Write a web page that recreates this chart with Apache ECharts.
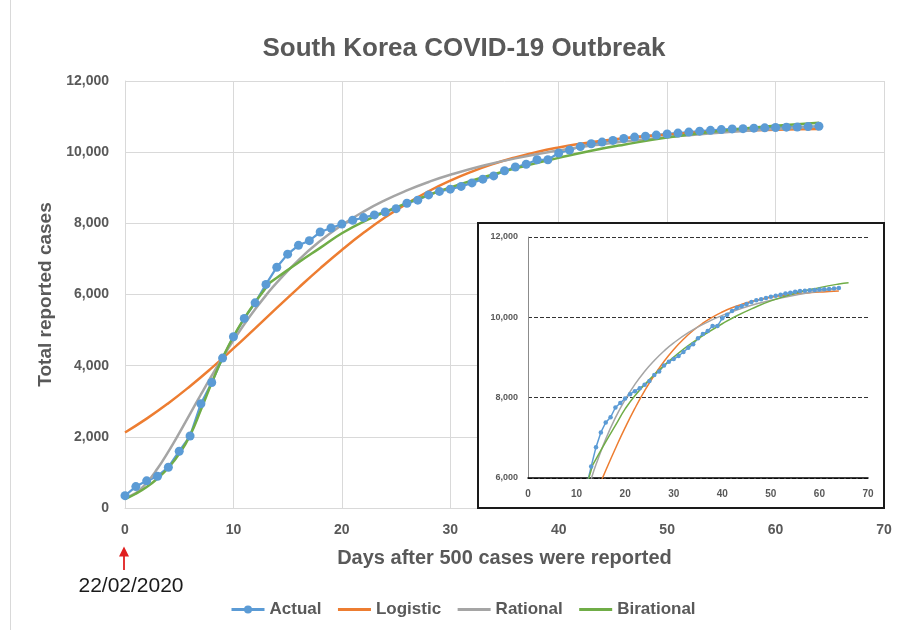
<!DOCTYPE html>
<html><head><meta charset="utf-8">
<script src="https://cdn.jsdelivr.net/npm/echarts@6/dist/echarts.min.js"></script>
<style>html,body{margin:0;padding:0;background:#fff}#c{width:903px;height:630px}</style>
</head><body><div id="c"></div>
<script>
// ---- data ----
const actualDays = [0,1,2,3,4,5,6,7,8,9,10,11,12,13,14,15,16,17,18,19,20,21,22,23,24,25,26,27,28,29,30,31,32,33,34,35,36,37,38,39,40,41,42,43,44,45,46,47,48,49,50,51,52,53,54,55,56,57,58,59,60,61,62,63,64];
const actual = [346,602,763,893,1146,1595,2022,2931,3526,4212,4812,5328,5766,6284,6767,7134,7382,7513,7755,7869,7979,8086,8162,8236,8320,8413,8565,8652,8799,8897,8961,9037,9137,9241,9332,9478,9583,9661,9786,9786,9976,10062,10156,10237,10284,10331,10384,10423,10450,10480,10512,10537,10564,10591,10613,10635,10653,10661,10674,10683,10694,10702,10708,10718,10728];

const logisticDays = [0,2,4,6,8,10,12,14,16,18,20,22,24,26,28,30,32,34,36,38,40,42,44,46,48,50,52,54,56,58,60,62,64];
const logistic = [2123,2511,2945,3423,3938,4484,5050,5622,6187,6735,7253,7733,8169,8558,8902,9200,9455,9672,9854,10007,10133,10238,10323,10394,10451,10498,10537,10568,10593,10613,10630,10643,10654];

const rationalDays = [0,1,2,3,4,5,6,7,8,9,10,11,12,13,14,16,18,20,22,24,26,28,30,33,36,40,44,48,52,56,60,64];
const rational = [300,424,711,1110,1585,2105,2647,3190,3720,4230,4712,5165,5586,5975,6335,6968,7502,7950,8330,8652,8926,9162,9364,9618,9826,10048,10224,10365,10478,10573,10652,10718];

// Birational: two rational pieces joined near day 13
const birationalDaysA = [0,1,2,3,4,5,6,7,8,9,10,11,12,13,13.3];
const birationalA = [253,400,590,830,1130,1520,2040,2760,3520,4220,4820,5330,5780,6190,6320];
const birationalDaysB = [13.3,14,16,18,20,22,25,28,31,34,37,40,43,46,50,55,60,64];
const birationalB = [6320,6470,6900,7310,7720,8050,8450,8800,9110,9380,9620,9840,10040,10210,10410,10600,10740,10830];
// inset version of the birational curve runs a little further
const insetTailDays = [66];
const insetTail = [10860];

const seriesNames = ['Actual','Logistic','Rational','Birational'];
const colors = {Actual:'#5B9BD5', Logistic:'#ED7D31', Rational:'#A5A5A5', Birational:'#70AD47'};

function zip(xs, ys){ return xs.map((x,i)=>[x, ys[i]]); }
function comma(v){ return String(v).replace(/\B(?=(\d{3})+(?!\d))/g, ','); }

const FONT = 'Liberation Sans, Arial, sans-serif';
const GREY_TXT = '#595959';

function mk(name, data, idx, opts){
  const main = idx === 0;
  return Object.assign({
    name: name, type: 'line', data: data,
    xAxisIndex: idx, yAxisIndex: idx,
    showSymbol: false, symbol: 'none', smooth: true,
    lineStyle: {color: colors[name], width: main ? 2.5 : 1.5},
    itemStyle: {color: colors[name]},
    z: main ? 2 : 5, silent: true, animation: false
  }, opts || {});
}

const series = [];
for (const idx of [0,1]) {
  const main = idx === 0;
  series.push(mk('Actual', zip(actualDays, actual), idx, {
    smooth: false, showSymbol: true, symbol: 'circle', symbolSize: main ? 9 : 4.5,
    lineStyle: {color: colors.Actual, width: main ? 2.25 : 1.5}
  }));
  series.push(mk('Logistic', zip(logisticDays, logistic), idx));
  series.push(mk('Rational', zip(rationalDays, rational), idx));
  series.push(mk('Birational', zip(birationalDaysA, birationalA), idx));
  const bDays = main ? birationalDaysB : birationalDaysB.concat(insetTailDays);
  const bVals = main ? birationalB : birationalB.concat(insetTail);
  series.push(mk('Birational', zip(bDays, bVals), idx));
}

const hiddenSym = {opacity: 0, color: 'transparent', borderColor: 'transparent', borderWidth: 0};
const legendData = seriesNames.map(n => n === 'Actual' ? {name: n} : {name: n, itemStyle: hiddenSym});

const chart = echarts.init(document.getElementById('c'), null, {renderer: 'canvas'});
chart.setOption({
  animation: false,
  backgroundColor: '#fff',
  title: {
    text: 'South Korea COVID-19 Outbreak', left: 459, top: 31, textAlign: 'center',
    textStyle: {fontFamily: FONT, fontWeight: 'bold', fontSize: 26, color: GREY_TXT}
  },
  legend: {
    data: legendData, left: 230, top: 601, padding: 0, itemGap: 15, itemWidth: 33, itemHeight: 10,
    lineStyle: {width: 3},
    textStyle: {fontFamily: FONT, fontWeight: 'bold', fontSize: 17, color: GREY_TXT}
  },
  grid: [
    {left: 125, right: 19, top: 81, bottom: 122},
    {left: 528, right: 35, top: 237, bottom: 152}
  ],
  xAxis: [
    {
      type: 'value', gridIndex: 0, min: 0, max: 70, interval: 10, z: 0,
      name: 'Days after 500 cases were reported', nameLocation: 'middle', nameGap: 40,
      nameTextStyle: {fontFamily: FONT, fontWeight: 'bold', fontSize: 20, color: GREY_TXT},
      axisLine: {show: true, lineStyle: {color: '#d9d9d9', width: 1}},
      axisTick: {show: false},
      axisLabel: {fontFamily: FONT, fontWeight: 'bold', fontSize: 14, color: GREY_TXT, margin: 15},
      splitLine: {show: true, lineStyle: {color: '#d9d9d9', width: 1}}
    },
    {
      type: 'value', gridIndex: 1, min: 0, max: 70, interval: 10, z: 4,
      axisLine: {show: true, onZero: false, lineStyle: {color: '#000', width: 1.5}},
      axisTick: {show: false},
      axisLabel: {fontFamily: FONT, fontWeight: 'bold', fontSize: 10, color: GREY_TXT, margin: 11},
      splitLine: {show: false}
    }
  ],
  yAxis: [
    {
      type: 'value', gridIndex: 0, min: 0, max: 12000, interval: 2000, z: 0,
      name: 'Total reported cases', nameLocation: 'middle', nameGap: 66,
      nameTextStyle: {fontFamily: FONT, fontWeight: 'bold', fontSize: 19, color: GREY_TXT},
      axisLine: {show: true, lineStyle: {color: '#d9d9d9', width: 1}},
      axisTick: {show: false},
      axisLabel: {fontFamily: FONT, fontWeight: 'bold', fontSize: 14, color: GREY_TXT, margin: 16, formatter: comma},
      splitLine: {show: true, lineStyle: {color: '#d9d9d9', width: 1}}
    },
    {
      type: 'value', gridIndex: 1, min: 6000, max: 12000, interval: 2000, z: 4,
      axisLine: {show: true, lineStyle: {color: '#8c8c8c', width: 1}},
      axisTick: {show: false},
      axisLabel: {fontFamily: FONT, fontWeight: 'bold', fontSize: 9, color: GREY_TXT, margin: 10, formatter: comma},
      splitLine: {show: true, lineStyle: {color: '#333', width: 1, type: [4, 2]}}
    }
  ],
  graphic: [
    {type: 'line', z: 1, shape: {x1: 10.5, y1: 0, x2: 10.5, y2: 630}, style: {stroke: '#d9d9d9', lineWidth: 1}},
    {type: 'rect', z: 3, shape: {x: 478, y: 223, width: 406, height: 285},
      style: {fill: '#fff', stroke: '#1a1a1a', lineWidth: 2}},
    {type: 'line', z: 10, shape: {x1: 124, y1: 570, x2: 124, y2: 555}, style: {stroke: '#e02020', lineWidth: 1.8}},
    {type: 'polygon', z: 10, shape: {points: [[124, 546.5], [119, 556.5], [129, 556.5]]}, style: {fill: '#e02020'}},
    {type: 'text', z: 10, x: 131, y: 586,
      style: {text: '22/02/2020', fontFamily: FONT, fontSize: 21, fill: '#1a1a1a', textAlign: 'center', textVerticalAlign: 'middle'}}
  ],
  series: series
});
</script>
</body></html>
